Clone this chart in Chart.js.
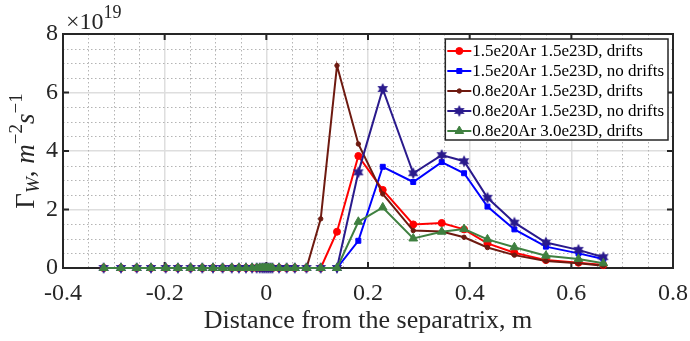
<!DOCTYPE html>
<html>
<head>
<meta charset="utf-8">
<script src="https://cdn.jsdelivr.net/npm/chart.js@4.4.0/dist/chart.umd.min.js"></script>
<style>
  html, body { margin: 0; padding: 0; background: #fff; }
  #wrap { width: 690px; height: 341px; }
</style>
</head>
<body>
<div id="wrap"><canvas id="chart" width="690" height="341"></canvas></div>
<script>
// distance from the separatrix, m
const distance = [-0.320, -0.286, -0.255, -0.227, -0.198, -0.174, -0.149, -0.126, -0.105, -0.086,
                  -0.068, -0.054, -0.040, -0.028, -0.019, -0.013, -0.008, -0.004, 0.000, 0.004,
                  0.008, 0.012, 0.025, 0.040, 0.056, 0.079, 0.107, 0.139, 0.181, 0.229,
                  0.289, 0.345, 0.389, 0.435, 0.488, 0.550, 0.614, 0.663];

// W flux, units of 1e19 m^-2 s^-1
const ar15D15Drifts   = [0, 0, 0, 0, 0, 0, 0, 0, 0, 0, 0, 0, 0, 0, 0, 0, 0, 0, 0, 0, 0, 0, 0, 0, 0,
                         0, 0, 1.24, 3.83, 2.67, 1.49, 1.54, 1.32, 0.84, 0.52, 0.27, 0.18, 0.10];
const ar15D15NoDrifts = [0, 0, 0, 0, 0, 0, 0, 0, 0, 0, 0, 0, 0, 0, 0, 0, 0, 0, 0, 0, 0, 0, 0, 0, 0,
                         0, 0, 0, 0.93, 3.46, 2.94, 3.62, 3.24, 2.10, 1.32, 0.73, 0.50, 0.31];
const ar08D15Drifts   = [0, 0, 0, 0, 0, 0, 0, 0, 0, 0, 0, 0, 0, 0, 0, 0, 0, 0, 0, 0, 0, 0, 0, 0, 0,
                         0, 1.68, 6.92, 4.24, 2.53, 1.28, 1.25, 1.05, 0.70, 0.44, 0.24, 0.16, 0.08];
const ar08D15NoDrifts = [0, 0, 0, 0, 0, 0, 0, 0, 0, 0, 0, 0, 0, 0, 0, 0, 0, 0, 0, 0, 0, 0, 0, 0, 0,
                         0, 0, 0, 3.27, 6.12, 3.24, 3.86, 3.65, 2.40, 1.55, 0.87, 0.62, 0.37];
const ar08D30Drifts   = [0, 0, 0, 0, 0, 0, 0, 0, 0, 0, 0, 0, 0, 0, 0, 0, 0, 0, 0, 0, 0, 0, 0, 0, 0,
                         0, 0, 0, 1.58, 2.07, 1.01, 1.24, 1.33, 0.98, 0.71, 0.42, 0.31, 0.16];

const seriesLabels = ['1.5e20Ar 1.5e23D, drifts', '1.5e20Ar 1.5e23D, no drifts',
                      '0.8e20Ar 1.5e23D, drifts', '0.8e20Ar 1.5e23D, no drifts',
                      '0.8e20Ar 3.0e23D, drifts'];
const seriesValues = [ar15D15Drifts, ar15D15NoDrifts, ar08D15Drifts, ar08D15NoDrifts, ar08D30Drifts];
const yExponent = 19;

const SERIF = '"Liberation Serif", "DejaVu Serif", serif';
const AXIS_COLOR = '#262626';

// matlab-ish hexagram marker
function makeHexagram(color, r) {
    const s = Math.ceil(r * 2 + 2);
    const c = document.createElement('canvas');
    c.width = s; c.height = s;
    const g = c.getContext('2d');
    g.translate(s / 2, s / 2);
    g.beginPath();
    for (let k = 0; k < 12; k++) {
        const ang = -Math.PI / 2 + k * Math.PI / 6;
        const rr = k % 2 === 0 ? r : r * 0.55;
        const px = rr * Math.cos(ang), py = rr * Math.sin(ang);
        if (k === 0) g.moveTo(px, py); else g.lineTo(px, py);
    }
    g.closePath();
    g.fillStyle = color;
    g.fill();
    return c;
}

const styles = [
    { color: '#ff0000', pointStyle: 'circle', radius: 3.5 },
    { color: '#0000ff', pointStyle: 'rect', radius: 3.5 },
    { color: '#6e1a10', pointStyle: 'circle', radius: 2.2 },
    { color: '#2a1a8c', pointStyle: makeHexagram('#2a1a8c', 6), radius: 5 },
    { color: '#3f8040', pointStyle: 'triangle', radius: 5 }
];

const datasets = seriesValues.map((vals, i) => ({
    label: seriesLabels[i],
    data: vals.map((v, j) => ({ x: distance[j], y: v })),
    borderColor: styles[i].color,
    backgroundColor: styles[i].color,
    pointBackgroundColor: styles[i].color,
    pointBorderColor: styles[i].color,
    pointStyle: styles[i].pointStyle,
    pointRadius: styles[i].radius,
    pointBorderWidth: 1,
    borderWidth: 2,
    tension: 0,
    clip: 10,
    order: seriesValues.length - i
}));

function drawText(ctx, parts, x, y) {
    // parts: [text, font, dy]
    let cx = x;
    parts.forEach(p => {
        ctx.font = p[1];
        ctx.fillText(p[0], cx, y + p[2]);
        cx += ctx.measureText(p[0]).width;
    });
    return cx - x;
}
function measureParts(ctx, parts) {
    let w = 0;
    parts.forEach(p => { ctx.font = p[1]; w += ctx.measureText(p[0]).width; });
    return w;
}

const matlabAxes = {
    id: 'matlabAxes',
    beforeDatasetsDraw(chart) {
        const { ctx, chartArea: a, scales: { x, y } } = chart;
        ctx.save();
        // minor grid, dotted
        ctx.strokeStyle = '#b4b4b4';
        ctx.lineWidth = 1;
        ctx.setLineDash([1.5, 2.5]);
        for (let v = x.min; v <= x.max + 1e-9; v += 0.05) {
            if (Math.abs(v / 0.2 - Math.round(v / 0.2)) < 1e-6) continue;
            const px = Math.round(x.getPixelForValue(v)) + 0.5;
            ctx.beginPath(); ctx.moveTo(px, a.top); ctx.lineTo(px, a.bottom); ctx.stroke();
        }
        for (let v = y.min; v <= y.max + 1e-9; v += 0.5) {
            if (Math.abs(v / 2 - Math.round(v / 2)) < 1e-6) continue;
            const py = Math.round(y.getPixelForValue(v)) + 0.5;
            ctx.beginPath(); ctx.moveTo(a.left, py); ctx.lineTo(a.right, py); ctx.stroke();
        }
        ctx.setLineDash([]);
        // box
        ctx.strokeStyle = AXIS_COLOR;
        ctx.lineWidth = 2;
        ctx.strokeRect(a.left, a.top, a.right - a.left, a.bottom - a.top);
        // inward ticks on all four sides
        const tl = 6;
        x.ticks.forEach(t => {
            const px = x.getPixelForValue(t.value);
            ctx.beginPath();
            ctx.moveTo(px, a.bottom); ctx.lineTo(px, a.bottom - tl);
            ctx.moveTo(px, a.top); ctx.lineTo(px, a.top + tl);
            ctx.stroke();
        });
        y.ticks.forEach(t => {
            const py = y.getPixelForValue(t.value);
            ctx.beginPath();
            ctx.moveTo(a.left, py); ctx.lineTo(a.left + tl, py);
            ctx.moveTo(a.right, py); ctx.lineTo(a.right - tl, py);
            ctx.stroke();
        });
        ctx.restore();
    },
    afterDraw(chart) {
        const { ctx, chartArea: a } = chart;
        ctx.save();
        ctx.fillStyle = AXIS_COLOR;
        ctx.textBaseline = 'alphabetic';
        ctx.textAlign = 'left';

        // exponent label
        drawText(ctx, [['\u00d710', '24px ' + SERIF, 0], [String(yExponent), '18px ' + SERIF, -11]], a.left + 3, 29);

        // x title
        ctx.font = '26px ' + SERIF;
        ctx.textAlign = 'center';
        ctx.fillText('Distance from the separatrix, m', (a.left + a.right) / 2, 328);

        // y title: Gamma_W, m^-2 s^-1
        ctx.textAlign = 'left';
        const big = '27px ' + SERIF, bigI = 'italic 27px ' + SERIF;
        const sub = 'italic 19px ' + SERIF, sup = '19px ' + SERIF;
        const parts = [['\u0393', big, 0], ['W', sub, 5], [', ', big, 0], ['m', bigI, 0],
                       ['\u22122', sup, -12], ['s', bigI, 0], ['\u22121', sup, -12]];
        const w = measureParts(ctx, parts);
        ctx.translate(34, 151);
        ctx.rotate(-Math.PI / 2);
        drawText(ctx, parts, -w / 2, 0);
        ctx.setTransform(1, 0, 0, 1, 0, 0);

        // legend, top right inside the axes
        ctx.font = '17px ' + SERIF;
        const textW = Math.max(...seriesLabels.map(s => ctx.measureText(s).width));
        const lw = 2 + 24 + 1 + textW + 4;
        const lh = 101;
        const lx = a.right - 5 - lw, ly = a.top + 5;
        ctx.fillStyle = '#fff';
        ctx.fillRect(lx, ly, lw, lh);
        ctx.strokeStyle = AXIS_COLOR;
        ctx.lineWidth = 1.5;
        ctx.strokeRect(lx, ly, lw, lh);
        chart.data.datasets.forEach((ds, i) => {
            const cy = ly + 12 + i * 20;
            ctx.strokeStyle = ds.borderColor;
            ctx.fillStyle = ds.backgroundColor;
            ctx.lineWidth = 2;
            ctx.beginPath(); ctx.moveTo(lx + 2, cy); ctx.lineTo(lx + 26, cy); ctx.stroke();
            ctx.lineWidth = 1;
            Chart.helpers.drawPoint(ctx, { pointStyle: ds.pointStyle, radius: ds.pointRadius, rotation: 0, borderWidth: 1 }, lx + 14, cy);
            ctx.fillStyle = '#000';
            ctx.font = '17px ' + SERIF;
            ctx.textBaseline = 'middle';
            ctx.fillText(ds.label, lx + 27, cy + 1);
        });
        ctx.restore();
    }
};

new Chart(document.getElementById('chart'), {
    type: 'line',
    data: { datasets },
    options: {
        responsive: false,
        devicePixelRatio: 1,
        animation: false,
        layout: { padding: { top: 34, right: 17, left: 0, bottom: 0 } },
        plugins: { legend: { display: false }, tooltip: { enabled: false } },
        scales: {
            x: {
                type: 'linear',
                min: -0.4, max: 0.8,
                afterFit(scale) {
                    scale.height = 73;
                    scale.paddingLeft = 0;
                    scale.paddingRight = 0;
                },
                ticks: {
                    stepSize: 0.2,
                    color: AXIS_COLOR,
                    font: { family: SERIF, size: 24 },
                    padding: 11,
                    maxRotation: 0,
                    callback: v => String(Math.round(v * 10) / 10)
                },
                grid: { color: '#dedede', lineWidth: 1.5, drawTicks: false },
                border: { display: false }
            },
            y: {
                min: 0, max: 8,
                afterFit(scale) {
                    scale.width = 63;
                    scale.paddingTop = 0;
                    scale.paddingBottom = 0;
                },
                ticks: {
                    stepSize: 2,
                    color: AXIS_COLOR,
                    font: { family: SERIF, size: 24 },
                    padding: 5,
                    callback: v => String(Math.round(v))
                },
                grid: { color: '#dedede', lineWidth: 1.5, drawTicks: false },
                border: { display: false }
            }
        }
    },
    plugins: [matlabAxes]
});
</script>
</body>
</html>
